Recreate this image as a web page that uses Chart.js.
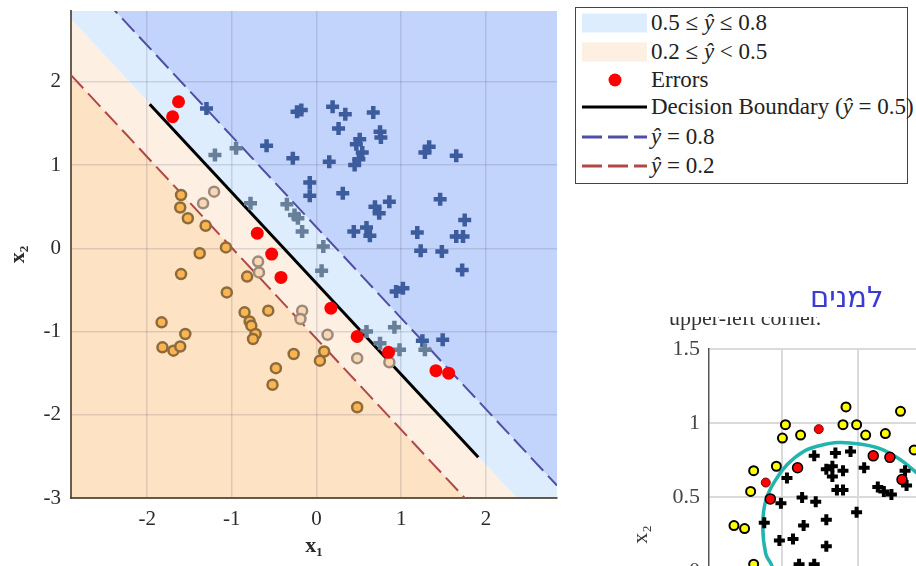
<!DOCTYPE html>
<html lang="en">
<head>
  <meta charset="UTF-8" />
  <title>Logistic regression decision regions</title>
  <script src="https://cdn.jsdelivr.net/npm/chart.js"></script>
  <style>
    html, body { margin: 0; padding: 0; background: #fff; }
    body { width: 916px; height: 566px; overflow: hidden; position: relative; font-family: "Liberation Serif", "DejaVu Serif", serif; }
    #main { position: absolute; left: 0; top: 0; }
    #side { position: absolute; left: 620px; top: 330px; }
    #legend { position: absolute; left: 575px; top: 7px; width: 331px; height: 175px; border: 1px solid #444; background: #fff; }
    .row { position: absolute; left: 0; height: 28px; width: 331px; font-size: 23px; line-height: 28px; color: #222; white-space: nowrap; }
    .row svg { position: absolute; left: 6px; top: 0; }
    .row span { position: absolute; left: 75px; top: 0; }
    #caption { position: absolute; left: 669px; top: 317px; width: 220px; height: 16px; overflow: hidden; }
    #caption span { position: absolute; left: 0; top: -10px; font-size: 22px; line-height: 22px; color: #333; white-space: nowrap; }
    #note { position: absolute; left: 810px; top: 280px; font-family: "DejaVu Sans", sans-serif; font-size: 29px; color: #3b3bd4; direction: rtl; }
  </style>
</head>
<body>
  <canvas id="main" width="570" height="566"></canvas>
  <canvas id="side" width="400" height="404"></canvas>

  <div id="legend">
    <div class="row" style="top:1px"><svg width="66" height="28"><rect x="0" y="4.5" width="65" height="19" fill="#ddedfd"/></svg><span>0.5 ≤ <i>ŷ</i> ≤ 0.8</span></div>
    <div class="row" style="top:30px"><svg width="66" height="28"><rect x="0" y="4.5" width="65" height="19" fill="#fdefe2"/></svg><span>0.2 ≤ <i>ŷ</i> &lt; 0.5</span></div>
    <div class="row" style="top:58px"><svg width="66" height="28"><circle cx="33" cy="14" r="6.5" fill="#ff0000"/></svg><span>Errors</span></div>
    <div class="row" style="top:85px"><svg width="66" height="28"><line x1="0" y1="14" x2="65" y2="14" stroke="#000" stroke-width="3"/></svg><span>Decision Boundary (<i>ŷ</i> = 0.5)</span></div>
    <div class="row" style="top:115px"><svg width="66" height="28"><line x1="0" y1="14" x2="65" y2="14" stroke="#4f4fa6" stroke-width="3" stroke-dasharray="20 6"/></svg><span><i>ŷ</i> = 0.8</span></div>
    <div class="row" style="top:144px"><svg width="66" height="28"><line x1="0" y1="14" x2="65" y2="14" stroke="#b04848" stroke-width="3" stroke-dasharray="20 6"/></svg><span><i>ŷ</i> = 0.2</span></div>
  </div>

  <div id="caption"><span>upper-left corner.</span></div>
  <div id="note">למנים</div>

<script>
  // ---- main plot data ----
  const xTicks = [-2, -1, 0, 1, 2];
  const yTicks = [-3, -2, -1, 0, 1, 2];

  // contour lines, read at the left/right plot edges
  const edgeX = [-2.9, 2.84];
  const line08Y = [3.42, -2.85];
  const line05Y = [2.75, -3.52];
  const line02Y = [2.08, -4.19];
  // drawn part of the decision boundary
  const boundaryX = [-1.97, 1.91];
  const boundaryY = [1.73, -2.51];

  // class 1, predicted with high confidence
  const plusSure = [
    [-1.30, 1.68], [-0.59, 1.23], [-0.28, 1.08], [-0.23, 1.64], [-0.18, 1.66],
    [0.19, 1.70], [0.34, 1.61], [0.67, 1.63], [0.26, 1.44], [0.51, 1.31],
    [0.47, 1.25], [0.75, 1.40], [0.76, 1.33], [0.54, 1.15], [0.50, 1.07],
    [0.45, 1.00], [0.15, 1.04], [1.28, 1.15], [1.33, 1.22], [1.65, 1.11],
    [-0.08, 0.79], [-0.08, 0.63], [0.31, 0.66], [0.69, 0.50], [0.74, 0.42],
    [0.86, 0.56], [1.46, 0.59], [1.75, 0.34], [0.44, 0.20], [0.59, 0.25],
    [0.63, 0.15], [1.19, 0.19], [1.23, -0.03], [1.48, -0.04], [1.65, 0.14],
    [1.73, 0.14], [1.72, -0.26], [0.94, -0.52], [1.02, -0.48], [1.25, -1.11],
    [1.49, -1.10]
  ];
  // class 1 inside the 0.5..0.8 band
  const plusBand = [
    [-1.20, 1.12], [-0.95, 1.20], [-0.78, 0.54], [-0.35, 0.53], [-0.26, 0.40],
    [-0.22, 0.36], [-0.17, 0.20], [0.08, 0.02], [0.06, -0.27], [0.59, -1.00],
    [0.92, -0.95], [0.75, -1.14], [0.98, -1.22], [1.28, -1.22]
  ];
  // class 0 inside the 0.2..0.5 band
  const circleBand = [
    [-1.21, 0.68], [-1.34, 0.54], [-0.69, -0.16], [-0.68, -0.29], [-0.17, -0.75],
    [-0.19, -0.85], [0.13, -1.04], [0.48, -1.32], [0.86, -1.37]
  ];
  // class 0, predicted with high confidence
  const circleSure = [
    [-1.60, 0.64], [-1.61, 0.49], [-1.52, 0.36], [-1.31, 0.27], [-1.07, 0.01],
    [-1.38, -0.06], [-1.60, -0.31], [-0.82, -0.34], [-1.06, -0.53], [-0.85, -0.77],
    [-0.57, -0.75], [-0.79, -0.88], [-0.77, -0.93], [-0.72, -1.03], [-0.75, -1.09],
    [-1.83, -0.89], [-1.55, -1.03], [-1.82, -1.19], [-1.69, -1.23], [-1.61, -1.18],
    [-0.27, -1.27], [-0.48, -1.44], [-0.52, -1.64], [0.09, -1.24], [0.04, -1.35],
    [0.48, -1.91]
  ];
  const errors = [
    [-1.63, 1.76], [-1.70, 1.58], [-0.70, 0.18], [-0.53, -0.07], [-0.42, -0.35],
    [0.17, -0.72], [0.48, -1.06], [0.85, -1.25], [1.41, -1.47], [1.56, -1.50]
  ];

  // ---- cropped second figure ----
  const sideXTicks = [-1, -0.5, 0];
  const sideYTicks = [0, 0.5, 1, 1.5];
  const sideYellow = [
    [-0.98, 0.99], [-0.60, 0.99], [-0.51, 0.99], [-0.58, 1.11], [-0.22, 1.08],
    [-1.00, 0.90], [-0.88, 0.92], [-0.45, 0.92], [-0.32, 0.93], [-0.13, 0.82],
    [-1.19, 0.68], [-1.04, 0.71], [-1.21, 0.54], [-1.32, 0.31], [-1.25, 0.29],
    [-1.19, 0.05]
  ];
  const sideRed = [[-0.90, 0.70], [-1.08, 0.49], [-0.40, 0.78], [-0.29, 0.77], [-0.21, 0.62]];
  const sideRedSmall = [[-0.76, 0.96], [-1.11, 0.60]];
  const sidePlus = [
    [-0.79, 0.78], [-0.65, 0.80], [-0.55, 0.81], [-0.97, 0.63], [-0.71, 0.69],
    [-0.67, 0.71], [-0.60, 0.68], [-0.67, 0.64], [-0.46, 0.70], [-0.19, 0.68],
    [-0.18, 0.58], [-0.37, 0.57], [-0.33, 0.54], [-0.28, 0.52], [-0.64, 0.55],
    [-0.60, 0.55], [-1.01, 0.46], [-0.87, 0.50], [-0.78, 0.47], [-0.51, 0.40],
    [-0.71, 0.35], [-0.86, 0.31], [-1.12, 0.33], [-1.02, 0.21], [-0.93, 0.22],
    [-0.71, 0.17], [-0.89, 0.05], [-0.79, 0.05]
  ];
  const sideCurve = [
    [-1.02, -0.13], [-1.07, 0.04], [-1.11, 0.12], [-1.13, 0.31], [-1.11, 0.48],
    [-1.05, 0.61], [-0.97, 0.72], [-0.86, 0.81], [-0.75, 0.85], [-0.63, 0.87],
    [-0.49, 0.86], [-0.36, 0.83], [-0.23, 0.76], [-0.13, 0.68], [0.01, 0.55]
  ];

  const serif = "'Liberation Serif', 'DejaVu Serif', serif";
  const pts = (xs, ys) => xs.map((x, i) => ({ x, y: ys[i] }));
  const pairs = a => a.map(([x, y]) => ({ x, y }));
  const setTicks = list => s => { s.ticks = list.map(v => ({ value: v })); };

  function lineSet(data, extra) {
    return Object.assign({ data, showLine: true, pointRadius: 0, borderWidth: 0, tension: 0, fill: false }, extra);
  }
  function markSet(data, extra) {
    return Object.assign({ data, showLine: false, pointHoverRadius: 0 }, extra);
  }

  // note: no fill may target dataset 0 (the filler skips a target index of 0 in beforeDraw)
  new Chart(document.getElementById("main"), {
    type: "line",
    data: {
      datasets: [
        lineSet(pts(boundaryX, boundaryY), { borderColor: "#000", borderWidth: 3, order: 5 }),
        lineSet(pts(edgeX, line08Y), { borderColor: "#4f4fa6", borderWidth: 2, borderDash: [18, 7], fill: "end", backgroundColor: "#c3d4fc", order: 6 }),
        lineSet(pts(edgeX, line05Y), { fill: "-1", backgroundColor: "#ddedfd", order: 8 }),
        lineSet(pts(edgeX, line02Y), { borderColor: "#b04848", borderWidth: 2, borderDash: [18, 7], fill: "-1", backgroundColor: "#fdefe2", order: 7 }),
        lineSet(pts(edgeX, line02Y), { fill: "start", backgroundColor: "#fde3c3", order: 9 }),
        markSet(pairs(plusSure), { pointStyle: "cross", pointRadius: 6.5, pointBorderWidth: 4.5, pointBorderColor: "#3c5c9d", order: 4 }),
        markSet(pairs(plusBand), { pointStyle: "cross", pointRadius: 6.5, pointBorderWidth: 4.5, pointBorderColor: "#677f98", order: 3 }),
        markSet(pairs(circleBand), { pointStyle: "circle", pointRadius: 5, pointBorderWidth: 2.5, pointBackgroundColor: "#f8d7b5", pointBorderColor: "#9c8b7a", order: 2 }),
        markSet(pairs(circleSure), { pointStyle: "circle", pointRadius: 5, pointBorderWidth: 2.5, pointBackgroundColor: "#fbb452", pointBorderColor: "#8c6b3c", order: 1 }),
        markSet(pairs(errors), { pointStyle: "circle", pointRadius: 6.5, pointBorderWidth: 0, pointBackgroundColor: "#ff0000", pointBorderColor: "#ff0000", order: 0 })
      ]
    },
    options: {
      responsive: false,
      animation: false,
      events: [],
      layout: { padding: { top: 7, right: 13, left: 0, bottom: 0 } },
      plugins: {
        legend: { display: false },
        tooltip: { enabled: false },
        filler: { drawTime: "beforeDraw", propagate: false }
      },
      scales: {
        x: {
          type: "linear", min: -2.9, max: 2.84,
          afterBuildTicks: setTicks(xTicks),
          afterFit: s => { s.height = 68; s.paddingLeft = 0; s.paddingRight = 0; },
          grid: { color: "rgba(70,70,95,0.17)", lineWidth: 1.5, drawTicks: false },
          border: { display: true, color: "rgba(70,55,40,0.8)", width: 2 },
          ticks: { padding: 9, color: "#2b2b2b", font: { family: serif, size: 21 } },
          title: { display: true, text: "x₁", color: "#2b2b2b", padding: { top: 6, bottom: 6 }, font: { family: serif, size: 22, weight: "bold" } }
        },
        y: {
          type: "linear", min: -3, max: 2.85,
          afterBuildTicks: setTicks(yTicks),
          afterFit: s => { s.width = 71; s.paddingTop = 0; s.paddingBottom = 0; },
          grid: { color: "rgba(70,70,95,0.17)", lineWidth: 1.5, drawTicks: false },
          border: { display: true, color: "rgba(70,55,40,0.8)", width: 2 },
          ticks: { padding: 10, color: "#2b2b2b", font: { family: serif, size: 21 } },
          title: { display: true, text: "x₂", color: "#2b2b2b", padding: { top: 5, bottom: 5 }, font: { family: serif, size: 22, weight: "bold" } }
        }
      }
    }
  });

  new Chart(document.getElementById("side"), {
    type: "line",
    data: {
      datasets: [
        lineSet(pairs(sideCurve), { borderColor: "#22b4ae", borderWidth: 3.5, tension: 0.4, order: 5 }),
        markSet(pairs(sidePlus), { pointStyle: "cross", pointRadius: 5.5, pointBorderWidth: 4, pointBorderColor: "#000", order: 3 }),
        markSet(pairs(sideYellow), { pointStyle: "circle", pointRadius: 4.5, pointBorderWidth: 2, pointBackgroundColor: "#ffff00", pointBorderColor: "#000", order: 2 }),
        markSet(pairs(sideRed), { pointStyle: "circle", pointRadius: 5, pointBorderWidth: 1.5, pointBackgroundColor: "#ff0000", pointBorderColor: "#000", order: 1 }),
        markSet(pairs(sideRedSmall), { pointStyle: "circle", pointRadius: 4.5, pointBorderWidth: 1, pointBackgroundColor: "#ff0000", pointBorderColor: "#7a0000", order: 0 })
      ]
    },
    options: {
      responsive: false,
      animation: false,
      events: [],
      layout: { padding: { top: 19, right: 10.5, left: 0, bottom: 0 } },
      plugins: { legend: { display: false }, tooltip: { enabled: false } },
      scales: {
        x: {
          type: "linear", min: -1.485, max: 0.5,
          afterBuildTicks: setTicks(sideXTicks),
          afterFit: s => { s.height = 14; s.paddingLeft = 0; s.paddingRight = 0; },
          grid: { color: "#dadada", lineWidth: 2, drawTicks: false },
          border: { display: false },
          ticks: { display: false }
        },
        y: {
          type: "linear", min: -1, max: 1.5,
          afterBuildTicks: setTicks(sideYTicks),
          afterFit: s => { s.width = 89; s.paddingTop = 0; s.paddingBottom = 0; },
          grid: { color: "#dadada", lineWidth: 2, drawTicks: false },
          border: { display: true, color: "#555", width: 1.5 },
          ticks: { padding: 9, color: "#444", font: { family: serif, size: 22 }, callback: v => String(v) },
          title: { display: true, text: "x₂", color: "#333", padding: { top: 8, bottom: 8 }, font: { family: serif, size: 22 } }
        }
      }
    }
  });
</script>
</body>
</html>
